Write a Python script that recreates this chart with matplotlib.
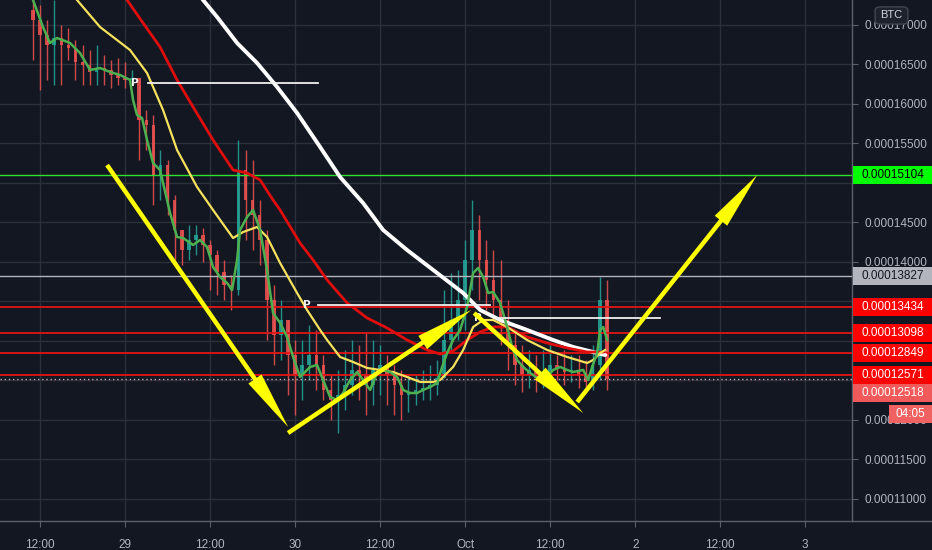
import matplotlib
matplotlib.use('Agg')
import matplotlib.pyplot as plt
import numpy as np
from matplotlib.patches import Rectangle, FancyBboxPatch
from matplotlib.lines import Line2D

# ---------------- data (time = hours since 28 Sep 00:00, price in satoshi = 1e-8 BTC)
candle_hours = list(range(11, 93))
first_open = 17189
close = [17063, 16873, 16746, 16835, 16746, 16708, 16531, 16493, 16405, 16455,
         16430, 16367, 16329, 16304, 16329, 15797, 15734, 15101, 15227, 14784,
         14405, 14151, 14278, 14341, 14215, 14088, 13873, 13709, 13645, 15164,
         14784, 14595, 14278, 13519, 13076, 13265, 12822, 12569, 12696, 12822,
         12696, 12380, 12253, 12316, 12443, 12633, 12569, 12443, 12633, 12696,
         12569, 12443, 12316, 12355, 12380, 12405, 12443, 12531, 13012, 13265,
         13519, 14025, 14405, 14025, 13772, 13519, 13265, 12949, 12696, 12569,
         12633, 12531, 12607, 12696, 12658, 12607, 12633, 12569, 12481, 12696,
         13519, 12518]
high = [17379, 17253, 17063, 17316, 17000, 16962, 16810, 16746, 16683, 16746,
        16620, 16557, 16582, 16531, 16430, 16329, 15924, 15860, 15417, 15291,
        14848, 14405, 14468, 14468, 14430, 14278, 14151, 14025, 13835, 15544,
        15417, 15291, 14784, 14405, 13709, 13519, 13265, 13012, 13012, 13201,
        13139, 12822, 12569, 12633, 12886, 13012, 12949, 13114, 13012, 12949,
        12822, 12696, 12633, 12569, 12569, 12633, 12696, 12759, 13645, 13860,
        13899, 14278, 14784, 14595, 14278, 14151, 14025, 13519, 13139, 12949,
        12886, 12822, 12886, 12949, 12822, 12886, 12822, 12822, 12759, 12949,
        13810, 13772]
low = [16557, 16177, 16304, 16240, 16240, 16557, 16304, 16240, 16240, 16240,
       16240, 16202, 16240, 16202, 16240, 15291, 15417, 14721, 14784, 14595,
       14025, 13962, 14025, 14088, 14000, 13645, 13582, 13519, 13392, 13582,
       14278, 14151, 13962, 13012, 12696, 12759, 12316, 12063, 12253, 12506,
       12380, 12253, 12000, 11835, 12126, 12316, 12253, 12063, 12190, 12316,
       12190, 12063, 12000, 12101, 12190, 12253, 12253, 12316, 12569, 12886,
       13012, 13139, 13645, 13519, 13392, 13265, 12949, 12633, 12443, 12355,
       12405, 12355, 12405, 12481, 12506, 12443, 12481, 12405, 12355, 12380,
       12506, 12380]

ma_fast_t = [11.01, 12.42, 13.41, 14.40, 16.23, 17.64, 19.06, 20.47, 21.88, 23.29,
             24.70, 25.13, 25.69, 26.40, 27.10, 27.95, 28.94, 30.35, 31.34, 32.19,
             33.60, 34.59, 35.57, 36.42, 37.41, 38.40, 39.10, 39.81, 40.23, 41.22,
             42.07, 43.06, 44.04, 44.89, 45.88, 46.87, 47.72, 48.70, 50.12, 51.10,
             51.95, 52.94, 53.93, 54.77, 55.76, 56.75, 57.60, 58.59, 59.57, 60.42,
             61.41, 62.40, 63.25, 64.23, 65.22, 66.07, 67.06, 68.05, 68.75, 69.46,
             70.30, 71.29, 72.28, 73.13, 73.83, 74.54, 75.25, 75.95, 76.94, 77.93,
             78.63, 79.34, 80.19, 81.18, 82.59, 83.58, 84.42, 85.41, 86.40, 87.25,
             88.66, 89.36, 89.93, 90.63, 91.05, 91.48, 92.05]
ma_fast_v = [17316, 16974, 16772, 16835, 16772, 16645, 16430, 16455, 16405, 16367,
             16304, 16050, 15860, 15822, 15544, 15253, 15164, 14620, 14316, 14303,
             14215, 14278, 14189, 13936, 13810, 13734, 13645, 14025, 14405, 14569,
             14658, 14405, 13899, 13354, 13228, 13050, 12797, 12544, 12671, 12696,
             12506, 12291, 12253, 12341, 12506, 12607, 12506, 12380, 12595, 12633,
             12607, 12544, 12380, 12341, 12341, 12380, 12417, 12468, 12671, 12848,
             13012, 13139, 13430, 13860, 13924, 13810, 13607, 13620, 13481, 13177,
             12924, 12759, 12671, 12595, 12506, 12544, 12633, 12671, 12633, 12607,
             12633, 12506, 12671, 12848, 13139, 13177, 13012]

ma_mid_t = [16.23, 17.22, 20.47, 24.70, 27.10, 29.36, 31.34, 34.16, 36.42, 39.24,
            40.66, 42.63, 44.04, 45.88, 48.28, 49.69, 51.53, 52.52, 54.35, 56.19,
            58.16, 60.00, 61.83, 63.81, 65.65, 67.48, 68.47, 70.30, 71.72, 73.13,
            74.54, 75.95, 77.93, 80.75, 83.58, 86.40, 89.22, 90.07, 91.06, 91.76]
ma_mid_v = [17443, 17316, 16974, 16683, 16392, 15924, 15417, 14949, 14658, 14303,
            14379, 14443, 14316, 13987, 13607, 13392, 13139, 13012, 12797, 12734,
            12658, 12633, 12607, 12544, 12481, 12481, 12506, 12671, 12886, 13177,
            13265, 13265, 13177, 13012, 12886, 12797, 12721, 12759, 12848, 12886]

ma_slow_t = [23.5, 24.28, 26.54, 28.94, 31.34, 33.60, 36.42, 39.24, 41.22, 43.06,
             44.89, 45.88, 48.70, 50.54, 52.52, 55.34, 58.16, 60.99, 63.81, 66.63,
             68.47, 70.30, 72.28, 74.12, 75.95, 77.93, 80.75, 83.58, 86.40, 89.22,
             91.48]
ma_slow_v = [17430, 17316, 17025, 16721, 16304, 15962, 15544, 15164, 15126, 15038,
             14784, 14658, 14240, 14025, 13772, 13481, 13291, 13164, 13012, 12886,
             12835, 12873, 13012, 13114, 13177, 13177, 13050, 12974, 12911, 12860,
             12860]

ma_long_t = [34.0, 35.01, 36.99, 39.81, 42.63, 45.46, 48.28, 51.53, 54.35, 57.60,
             60.42, 63.81, 67.48, 71.72, 74.12, 76.94, 80.75, 84.42, 87.25, 90.07,
             91.76]
ma_long_v = [17440, 17316, 17101, 16772, 16519, 16215, 15886, 15455, 15075, 14746,
             14405, 14151, 13899, 13607, 13392, 13265, 13139, 13012, 12924, 12860,
             12822]

target_level = 15104
gray_level = 13827
red_levels = [13434, 13098, 12849, 12571]
last_price = 12518
countdown = "04:05"
symbol = "BTC"

pivot_levels = [16265, 13450, 13291]
pivot_spans = [(27.24, 51.24), (51.24, 75.53), (76.52, 99.53)]
pivot_label_t = [25.41, 49.69, 73.83]

arrows = [((21.46, 15227), (47.01, 11911)),
          ((47.01, 11835), (72.85, 13392)),
          ((73.27, 13354), (88.66, 12088)),
          ((87.81, 12227), (113.22, 15101))]

xtick_hours = [12, 24, 36, 48, 60, 72, 84, 96, 108, 120]
xtick_labels = ["12:00", "29", "12:00", "30", "12:00", "Oct", "12:00", "2", "12:00", "3"]
ytick_values = list(range(11000, 17001, 500))
# tick labels fully hidden behind the price badges in the reference
ytick_hidden = [15000, 13500, 13000, 12500]

# ---------------- style
BG = '#131722'
GRID = '#2c303b'
TXT = '#b2b5be'
UP = '#26a69a'
DOWN = '#ef5350'
FONT = 'Liberation Sans'

W, H = 932, 550
fig = plt.figure(figsize=(W / 100, H / 100), dpi=100, facecolor=BG)
ax = fig.add_axes([0, 29 / H, 852 / W, 521 / H], facecolor=BG)
ax.set_xlim(6.35, 126.6)
ax.set_ylim(10721, 17316)

ax.set_xticks(xtick_hours)
ax.set_xticklabels(xtick_labels)
ax.set_yticks(ytick_values)
ax.set_yticklabels(["" if v in ytick_hidden else f"{v / 1e8:.8f}" for v in ytick_values])
ax.yaxis.tick_right()
ax.tick_params(axis='both', colors='#5d606b', labelcolor=TXT, labelsize=8.5, length=4)
ax.tick_params(axis='x', pad=9)
ax.tick_params(axis='y', pad=5)
for lab in ax.get_xticklabels() + ax.get_yticklabels():
    lab.set_fontfamily(FONT)
ax.grid(True, color=GRID, lw=1, zorder=0)
ax.set_axisbelow(True)
for sp in ['top', 'left']:
    ax.spines[sp].set_visible(False)
for sp in ['right', 'bottom']:
    ax.spines[sp].set_color('#5d606b')
    ax.spines[sp].set_linewidth(1)
fig.add_artist(Line2D([852 / W, 1], [29 / H, 29 / H], transform=fig.transFigure, color='#5d606b', lw=1))

# candles
hrs = np.array(candle_hours, float)
c = np.array(close, float)
o = np.array([first_open] + close[:-1], float)
hi = np.maximum(np.array(high, float), np.maximum(o, c))
lo = np.minimum(np.array(low, float), np.minimum(o, c))
cols = np.where(c >= o, UP, DOWN)
ax.vlines(hrs, lo, hi, colors=cols, lw=1, zorder=2, alpha=0.85)
ax.bar(hrs, np.maximum(np.abs(c - o), 10), bottom=np.minimum(o, c), width=0.5,
       color=cols, linewidth=0, zorder=2, alpha=0.85)

# horizontal levels
ax.axhline(target_level, color='#2fe02f', lw=1, zorder=3)
ax.axhline(gray_level, color='#b2b5be', lw=1, zorder=3)
for lv in red_levels:
    ax.axhline(lv, color='#e31414', lw=1.3, zorder=3)
ax.axhline(last_price, color='#c9a3ad', lw=1, ls=(0, (1, 2)), zorder=3)

# moving averages
ax.plot(ma_long_t, ma_long_v, color='#ffffff', lw=2.8, zorder=4,
        solid_capstyle='round', solid_joinstyle='round')
ax.plot(ma_slow_t, ma_slow_v, color='#e00d0d', lw=2, zorder=4, solid_joinstyle='round')
ax.plot(ma_mid_t, ma_mid_v, color='#f5e15c', lw=1.6, zorder=4, solid_joinstyle='round')
ax.plot(ma_fast_t, ma_fast_v, color='#4caf50', lw=1.8, zorder=4, solid_joinstyle='round')

# pivot lines
for lv, (t0, t1), tl in zip(pivot_levels, pivot_spans, pivot_label_t):
    ax.plot([t0, t1], [lv, lv], color='#f0f0f0', lw=1.3, zorder=5)
    ax.text(tl, lv, 'P', color='#f0f0f0', fontsize=7.5, fontweight='bold',
            ha='center', va='center', zorder=5, family='DejaVu Sans')

# arrows
for (start, tip) in arrows:
    ax.annotate('', xy=tip, xytext=start, zorder=6, annotation_clip=False,
                arrowprops=dict(arrowstyle='simple,head_length=4.2,head_width=1.15,tail_width=0.32',
                                color='#ffff00', mutation_scale=10, shrinkA=0, shrinkB=0, lw=0))

# right-hand price labels
fig.canvas.draw()
def ypix(v):
    return ax.transData.transform((10, v))[1]

def price_box(ypx, text, bg, fg, x0=853, x1=932, h=18):
    fig.add_artist(Rectangle((x0 / W, (ypx - h / 2) / H), (x1 - x0) / W, h / H,
                             transform=fig.transFigure, facecolor=bg, edgecolor='none', zorder=5))
    fig.text(862 / W if x0 == 853 else (x0 + x1) / 2 / W, ypx / H, text, color=fg,
             fontsize=8.5, family=FONT, va='center',
             ha='left' if x0 == 853 else 'center', zorder=6)

price_box(ypix(target_level), f"{target_level / 1e8:.8f}", '#00ff00', '#000000')
price_box(ypix(gray_level), f"{gray_level / 1e8:.8f}", '#b2b5be', '#131722')
for lv in red_levels:
    price_box(ypix(lv), f"{lv / 1e8:.8f}", '#ff0000', '#ffffff')
lp = ypix(last_price) - 14
price_box(lp, f"{last_price / 1e8:.8f}", '#f05a5a', '#ffffff')
price_box(lp - 21, countdown, '#f06262', '#ffffff', x0=889)

# symbol badge
fig.add_artist(FancyBboxPatch((877 / W, (H - 23) / H), 29 / W, 15 / H,
                              boxstyle='round,pad=0.002,rounding_size=0.006',
                              transform=fig.transFigure, facecolor='#1e222d',
                              edgecolor='#434651', lw=1, zorder=5))
fig.text(891.5 / W, (H - 15.5) / H, symbol, color='#d1d4dc', fontsize=8, family=FONT,
         ha='center', va='center', zorder=6)

fig.savefig('out.png', dpi=100, facecolor=BG)
